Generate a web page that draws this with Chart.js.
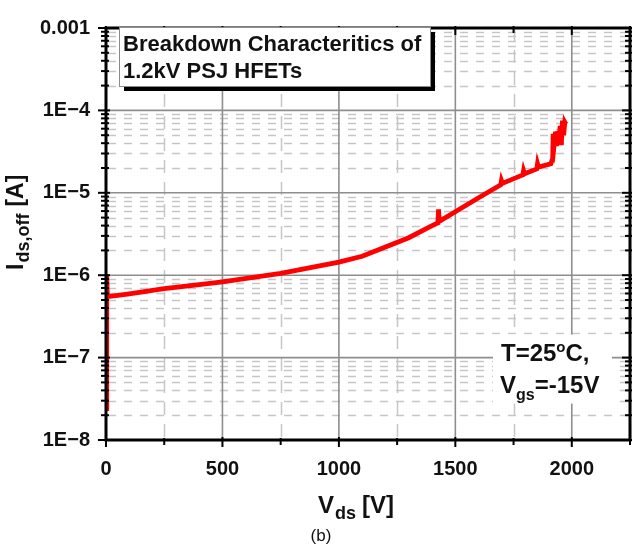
<!DOCTYPE html>
<html>
<head>
<script src="https://cdn.jsdelivr.net/npm/chart.js@4.4.0/dist/chart.umd.min.js"></script>
<style>
  body { margin: 0; background: #fff; }
</style>
</head>
<body>
<canvas id="chart" width="635" height="545"></canvas>
<script>
// off-state sweep: drain voltage [V] and drain leakage current [A]
const vds = [0, 3, 6, 50, 100, 250, 400, 500, 750, 1000, 1100, 1200, 1300, 1400, 1425, 1428, 1431,
  1500, 1600, 1695, 1698, 1702, 1790, 1793, 1797, 1850, 1853, 1857, 1910, 1918, 1920, 1925,
  1930, 1935, 1940, 1945, 1950, 1955, 1960, 1965, 1970, 1975];
const idsOff = [2.4e-8, 1.0e-6, 5.5e-7, 5.7e-7, 5.95e-7, 6.85e-7, 7.7e-7, 8.3e-7, 1.05e-6, 1.44e-6,
  1.7e-6, 2.2e-6, 2.85e-6, 4.0e-6, 4.3e-6, 6.3e-6, 4.5e-6,
  5.9e-6, 8.7e-6, 1.25e-5, 1.4e-5, 1.3e-5, 1.65e-5, 1.85e-5, 1.7e-5, 1.95e-5, 2.25e-5, 2.05e-5,
  2.25e-5, 2.6e-5, 5.2e-5, 4.0e-5, 5.5e-5, 3.7e-5, 5.6e-5, 4.2e-5, 6.5e-5, 3.8e-5, 7.5e-5,
  5.0e-5, 7.2e-5, 6.8e-5];

const xTickValues = [0, 500, 1000, 1500, 2000];
const xMinorValues = [250, 750, 1250, 1750, 2250];
const yTickValues = [1e-8, 1e-7, 1e-6, 1e-5, 1e-4, 1e-3];
const yTickLabels = ['1E\u22128', '1E\u22127', '1E\u22126', '1E\u22125', '1E\u22124', '0.001'];

const FONT = '"Liberation Sans", Arial, sans-serif';

// 2..9 inside every decade
const yMinorValues = [];
for (let i = 0; i < yTickValues.length - 1; i++) {
  for (let k = 2; k <= 9; k++) yMinorValues.push(yTickValues[i] * k);
}

function hline(ctx, x1, x2, y) { ctx.beginPath(); ctx.moveTo(x1, y); ctx.lineTo(x2, y); ctx.stroke(); }
function vline(ctx, x, y1, y2) { ctx.beginPath(); ctx.moveTo(x, y1); ctx.lineTo(x, y2); ctx.stroke(); }

// text runs with subscripts / superscripts
function drawRuns(ctx, runs, x, y) {
  runs.forEach(r => {
    ctx.font = r.font;
    ctx.fillText(r.t, x, y + (r.dy || 0));
    x += ctx.measureText(r.t).width + (r.gap || 0);
  });
}

const B = (s) => 'bold ' + s + 'px ' + FONT;

const decor = {
  id: 'decor',
  beforeDatasetsDraw(chart) {
    const { ctx, chartArea: a, scales: { x, y } } = chart;
    ctx.save();
    ctx.lineWidth = 1.5;
    ctx.strokeStyle = '#c6c6c6';
    ctx.setLineDash([8, 8]);
    yMinorValues.forEach(v => hline(ctx, a.left + 2, a.right, Math.round(y.getPixelForValue(v)) + 0.5));
    ctx.setLineDash([13, 9]);
    xMinorValues.forEach(v => vline(ctx, Math.round(x.getPixelForValue(v)) + 0.5, a.top, a.bottom));
    ctx.setLineDash([]);
    ctx.strokeStyle = '#8e8e8e';
    ctx.lineWidth = 1.6;
    yTickValues.forEach(v => hline(ctx, a.left, a.right, y.getPixelForValue(v)));
    xTickValues.forEach(v => vline(ctx, x.getPixelForValue(v), a.top, a.bottom));

    // white patch behind the test-condition text
    ctx.fillStyle = '#fff';
    ctx.fillRect(a.right - 137, y.getPixelForValue(1e-7) - 23, 119, 69);
    ctx.restore();
  },
  afterDatasetsDraw(chart) {
    const { ctx, chartArea: a, scales: { x, y } } = chart;
    ctx.save();
    ctx.strokeStyle = '#000';
    // tick marks on all four sides
    ctx.lineWidth = 2;
    yTickValues.forEach(v => {
      const p = y.getPixelForValue(v);
      hline(ctx, a.left - 8, a.left + 4, p);
      hline(ctx, a.right - 8, a.right + 2, p);
    });
    yMinorValues.forEach(v => {
      const p = y.getPixelForValue(v);
      hline(ctx, a.left - 5, a.left + 3, p);
      hline(ctx, a.right - 5, a.right + 2, p);
    });
    xTickValues.forEach(v => {
      const p = x.getPixelForValue(v);
      vline(ctx, p, a.bottom - 3, a.bottom + 7);
      vline(ctx, p, a.top - 2, a.top + 7);
    });
    xMinorValues.forEach(v => {
      const p = x.getPixelForValue(v);
      vline(ctx, p, a.bottom - 2, a.bottom + 5);
      vline(ctx, p, a.top - 2, a.top + 5);
    });
    // frame
    ctx.lineWidth = 3;
    ctx.strokeRect(a.left, a.top, a.right - a.left, a.bottom - a.top);
    ctx.restore();
  },
  afterDraw(chart) {
    const { ctx } = chart;
    ctx.save();
    ctx.textBaseline = 'alphabetic';

    // title box with drop shadow
    const bx = 119, by = 27, bw = 311, bh = 59;
    ctx.fillStyle = '#000';
    ctx.fillRect(bx + 5, by + 5, bw, bh);
    ctx.fillStyle = '#fff';
    ctx.fillRect(bx, by, bw, bh);
    ctx.strokeStyle = '#8a8a8a';
    ctx.lineWidth = 1;
    ctx.strokeRect(bx + 0.5, by + 0.5, bw, bh);
    ctx.fillStyle = '#111';
    ctx.font = B(22);
    ctx.fillText('Breakdown Characteritics of', 123, 51);
    ctx.fillText('1.2kV PSJ HFETs', 123, 78);

    // test conditions
    drawRuns(ctx, [{ t: 'T=25', font: B(24) }, { t: 'o', font: B(15), dy: -9 }, { t: 'C,', font: B(24) }], 501, 361);
    drawRuns(ctx, [{ t: 'V', font: B(24) }, { t: 'gs', font: B(16), dy: 7 }, { t: '=-15V', font: B(24) }], 500, 393);

    // x title
    drawRuns(ctx, [{ t: 'V', font: B(24), gap: 1 }, { t: 'ds', font: B(18), dy: 6, gap: 6 }, { t: '[V]', font: B(24) }], 318, 513);

    // y title, rotated
    ctx.save();
    ctx.translate(23, 270);
    ctx.rotate(-Math.PI / 2);
    drawRuns(ctx, [{ t: 'I', font: B(23), gap: 1 }, { t: 'ds,off', font: B(18), dy: 6, gap: 7 }, { t: '[A]', font: B(23) }], 0, 0);
    ctx.restore();

    // panel label
    ctx.font = '17px ' + FONT;
    ctx.textAlign = 'center';
    ctx.fillText('(b)', 321, 541);
    ctx.restore();
  }
};

new Chart(document.getElementById('chart'), {
  type: 'scatter',
  data: {
    datasets: [{
      data: vds.map((v, i) => ({ x: v, y: idsOff[i] })),
      showLine: true,
      borderColor: '#ff0000',
      borderWidth: 4.8,
      pointRadius: 0,
      tension: 0
    }]
  },
  options: {
    responsive: false,
    animation: false,
    layout: { padding: { top: 18, right: 5, left: 0, bottom: 0 } },
    plugins: { legend: { display: false }, tooltip: { enabled: false } },
    scales: {
      x: {
        type: 'linear', min: 0, max: 2250,
        afterBuildTicks: s => { s.ticks = xTickValues.map(v => ({ value: v })); },
        afterFit: s => { s.height = 105; },
        grid: { display: false, drawTicks: false },
        border: { display: false },
        ticks: {
          color: '#111', padding: 17, maxRotation: 0, font: { family: FONT, size: 20, weight: 'bold' },
          callback: v => String(v)
        }
      },
      y: {
        type: 'logarithmic', min: 1e-8, max: 1e-3,
        afterBuildTicks: s => { s.ticks = yTickValues.map(v => ({ value: v })); },
        afterFit: s => { s.width = 106; },
        grid: { display: false, drawTicks: false },
        border: { display: false },
        ticks: {
          color: '#111', padding: 16, font: { family: FONT, size: 20, weight: 'bold' },
          callback: v => yTickLabels[yTickValues.findIndex(t => Math.abs(Math.log10(t / v)) < 1e-6)]
        }
      }
    }
  },
  plugins: [decor]
});
</script>
</body>
</html>
